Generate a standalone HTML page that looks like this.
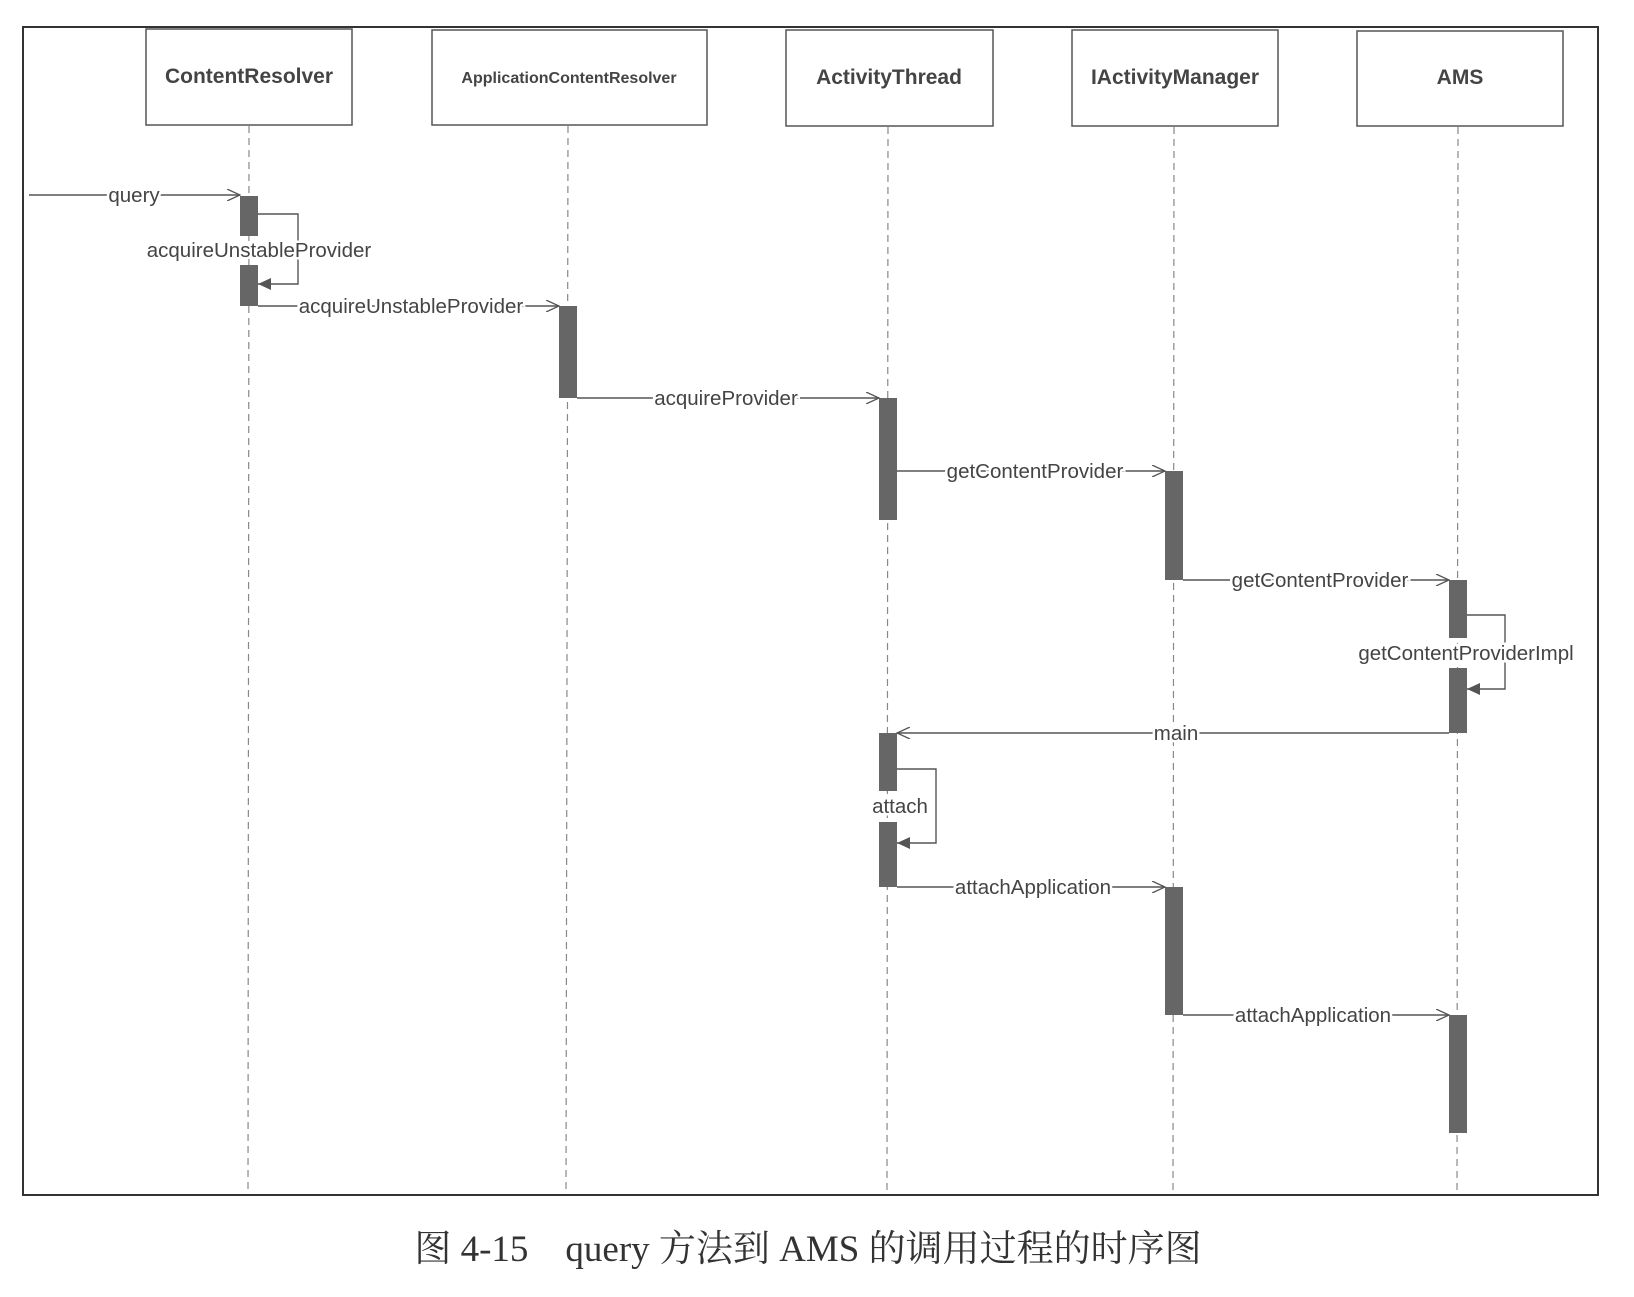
<!DOCTYPE html>
<html><head><meta charset="utf-8"><style>
html,body{margin:0;padding:0;background:#fff;}
svg text{font-family:"Liberation Sans",sans-serif;fill:#444;}
.lb{paint-order:stroke;stroke:#fff;stroke-width:5px;}
</style></head><body>
<svg width="1634" height="1292" xmlns="http://www.w3.org/2000/svg">
<defs>
<marker id="open" markerWidth="14" markerHeight="12" refX="13" refY="6" orient="auto" markerUnits="userSpaceOnUse"><path d="M0,0 L13,6 L0,12" fill="none" stroke="#555" stroke-width="1.3"/></marker>
<marker id="fill" markerWidth="14" markerHeight="12" refX="13" refY="6" orient="auto" markerUnits="userSpaceOnUse"><path d="M0,0 L13,6 L0,12 z" fill="#555"/></marker>
</defs>
<rect x="23" y="27" width="1575" height="1168" fill="none" stroke="#333" stroke-width="2"/>
<g fill="#fff" stroke="#555" stroke-width="1.5">
<rect x="146" y="29" width="206" height="96"/>
<rect x="432" y="30" width="275" height="95"/>
<rect x="786" y="30" width="207" height="96"/>
<rect x="1072" y="30" width="206" height="96"/>
<rect x="1357" y="31" width="206" height="95"/>
</g>
<g text-anchor="middle" font-size="21" font-weight="bold">
<text x="249" y="83">ContentResolver</text>
<text x="569" y="83" font-size="16">ApplicationContentResolver</text>
<text x="889" y="84">ActivityThread</text>
<text x="1175" y="84">IActivityManager</text>
<text x="1460" y="84">AMS</text>
</g>
<g stroke="#888" stroke-width="1.2" stroke-dasharray="7,5">
<line x1="249" y1="126" x2="248" y2="1192"/>
<line x1="568" y1="126" x2="566" y2="1192"/>
<line x1="888" y1="127" x2="887" y2="1192"/>
<line x1="1174" y1="127" x2="1173" y2="1192"/>
<line x1="1458" y1="127" x2="1457" y2="1192"/>
</g>
<g fill="#666">
<rect x="240" y="196" width="18" height="40"/>
<rect x="240" y="265" width="18" height="41"/>
<rect x="559" y="306" width="18" height="92"/>
<rect x="879" y="398" width="18" height="122"/>
<rect x="1165" y="471" width="18" height="109"/>
<rect x="1449" y="580" width="18" height="58"/>
<rect x="1449" y="668" width="18" height="65"/>
<rect x="879" y="733" width="18" height="58"/>
<rect x="879" y="822" width="18" height="65"/>
<rect x="1165" y="887" width="18" height="128"/>
<rect x="1449" y="1015" width="18" height="118"/>
</g>
<g stroke="#555" stroke-width="1.4" fill="none">
<line x1="29" y1="195" x2="240" y2="195" marker-end="url(#open)"/>
<polyline points="258,214 298,214 298,284 258,284" marker-end="url(#fill)"/>
<line x1="258" y1="306" x2="559" y2="306" marker-end="url(#open)"/>
<line x1="577" y1="398" x2="879" y2="398" marker-end="url(#open)"/>
<line x1="897" y1="471" x2="1165" y2="471" marker-end="url(#open)"/>
<line x1="1183" y1="580" x2="1449" y2="580" marker-end="url(#open)"/>
<polyline points="1467,615 1505,615 1505,689 1467,689" marker-end="url(#fill)"/>
<line x1="1449" y1="733" x2="897" y2="733" marker-end="url(#open)"/>
<polyline points="897,769 936,769 936,843 897,843" marker-end="url(#fill)"/>
<line x1="897" y1="887" x2="1165" y2="887" marker-end="url(#open)"/>
<line x1="1183" y1="1015" x2="1449" y2="1015" marker-end="url(#open)"/>
</g>
<g font-size="20.5" text-anchor="middle" class="lb">
<text class="lb" x="134" y="202">query</text>
<text class="lb" x="259" y="257">acquireUnstableProvider</text>
<text class="lb" x="411" y="313">acquireUnstableProvider</text>
<text class="lb" x="726" y="405">acquireProvider</text>
<text class="lb" x="1035" y="478">getContentProvider</text>
<text class="lb" x="1320" y="587">getContentProvider</text>
<text class="lb" x="1466" y="660">getContentProviderImpl</text>
<text class="lb" x="1176" y="740">main</text>
<text class="lb" x="900" y="813">attach</text>
<text class="lb" x="1033" y="894">attachApplication</text>
<text class="lb" x="1313" y="1022">attachApplication</text>
</g>
<text x="808" y="1261" text-anchor="middle" font-size="37" style="font-family:'Liberation Serif','Noto Serif CJK SC',serif;fill:#333">图 4-15　query 方法到 AMS 的调用过程的时序图</text>
</svg>
</body></html>
